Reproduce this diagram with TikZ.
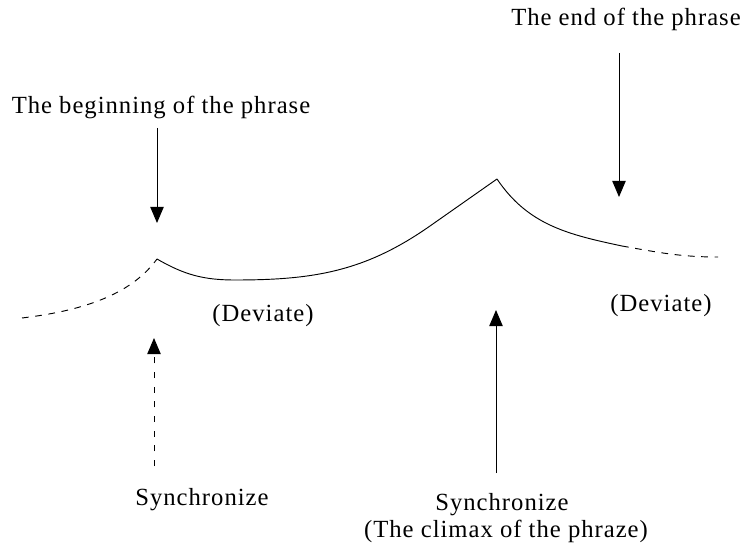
\documentclass[tikz,border=0pt]{standalone}
\usepackage{fontspec}
\setmainfont[LetterSpace=4]{Liberation Serif}
\usetikzlibrary{arrows.meta}
\tikzset{
  lbl/.style={font=\fontsize{18.5}{21}\selectfont, inner sep=0pt, anchor=base},
  curveline/.style={line width=0.7pt},
  dashline/.style={line width=0.7pt, dash pattern=on 5pt off 5pt},
  pointer/.style={line width=0.7pt, -{Triangle[width=10pt, length=12pt]}},
}
\begin{document}
\begin{tikzpicture}[x=0.75pt, y=0.75pt]
    \useasboundingbox (0,0) rectangle (747,551);

    % Testi
    \node[lbl] (beg_text) at (161,437) {The beginning of the phrase};
    \node[lbl] (end_text) at (626,525) {The end of the phrase};
    \node[lbl] (dev_left) at (263,229) {(Deviate)};
    \node[lbl] (dev_right) at (661,240) {(Deviate)};
    \node[lbl] (sync_left) at (202,46) {Synchronize};
    \node[lbl] (sync_right) at (502,41) {Synchronize};
    \node[lbl] (climax_text) at (506,14) {(The climax of the phraze)};

    % Punti della curva
    \coordinate (curve_start) at (22,233);
    \coordinate (peak_left) at (157,292);
    \coordinate (valley) at (235,271);
    \coordinate (rise) at (430,325);
    \coordinate (peak_right) at (497,372);
    \coordinate (fall) at (622,305);
    \coordinate (curve_end) at (718,294);

    % Curva della frase
    \draw[dashline] (curve_start) .. controls (80,240) and (130,255) .. (peak_left);
    \draw[curveline] (peak_left) to[out=-30, in=180] (valley)
        to[out=0, in=215] (rise) -- (peak_right);
    \draw[curveline] (peak_right) to[out=-56, in=168] (fall);
    \draw[dashline] (fall) to[out=-10, in=180] (curve_end);

    % Estremi delle frecce
    \coordinate (beg_from) at (157,423);
    \coordinate (beg_to) at (157,328);
    \coordinate (end_from) at (619,498);
    \coordinate (end_to) at (619,354);
    \coordinate (sync_from) at (154,85);
    \coordinate (sync_to) at (154,213);
    \coordinate (climax_from) at (496,78);
    \coordinate (climax_to) at (496,241);

    % Frecce
    \draw[pointer] (beg_from) -- (beg_to);
    \draw[pointer] (end_from) -- (end_to);
    \draw[pointer, dash pattern=on 4.5pt off 6.5pt] (sync_from) -- (sync_to);
    \draw[pointer] (climax_from) -- (climax_to);
\end{tikzpicture}
\end{document}
